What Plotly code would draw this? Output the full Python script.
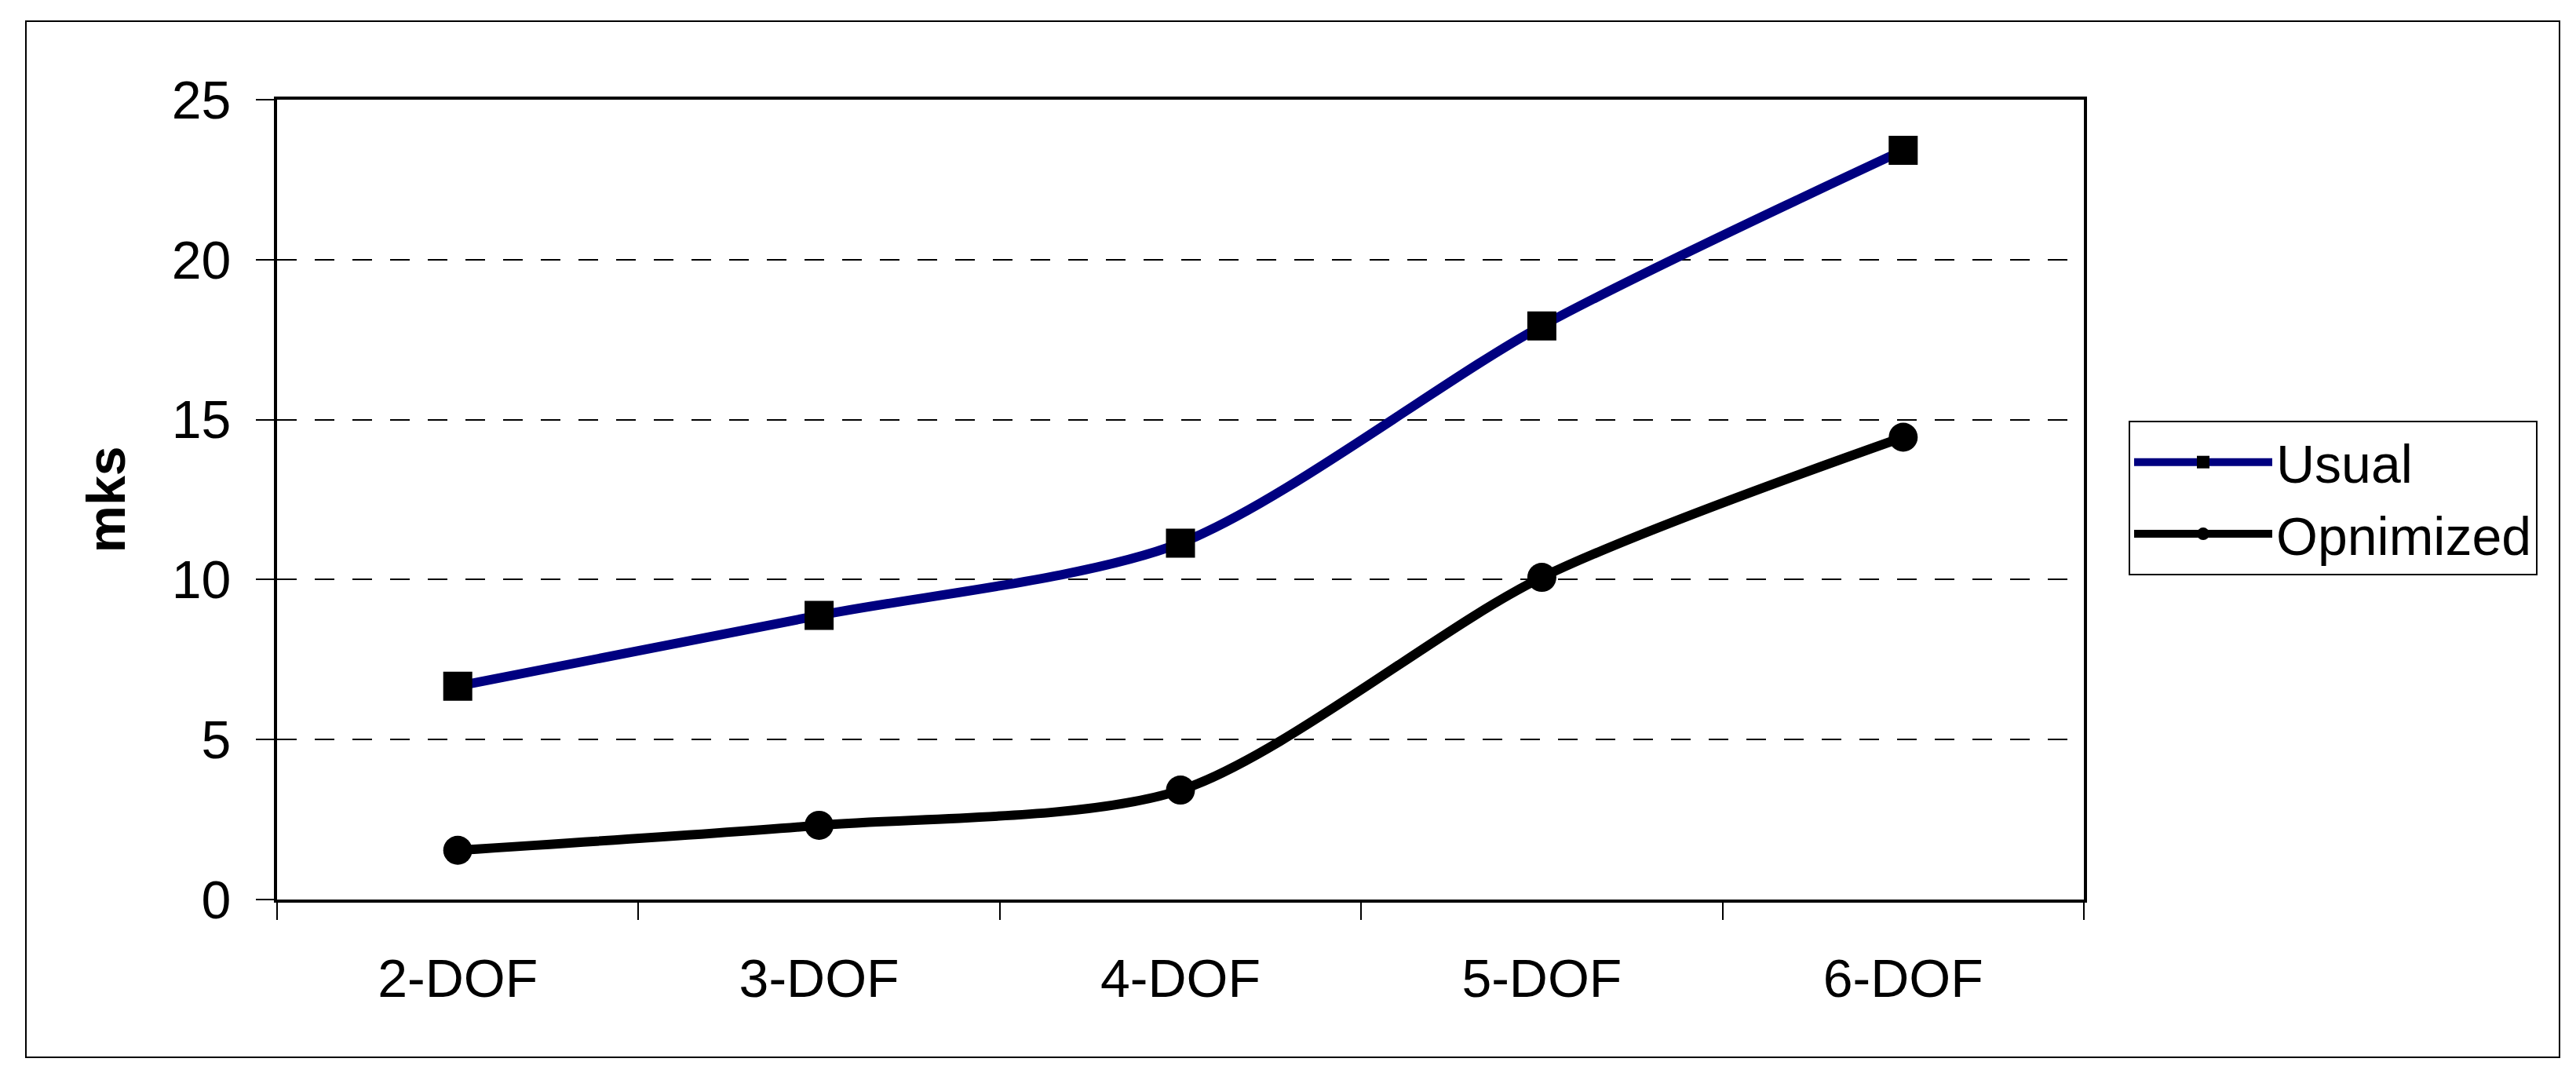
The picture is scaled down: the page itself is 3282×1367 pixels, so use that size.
import plotly.graph_objects as go

categories = ["2-DOF", "3-DOF", "4-DOF", "5-DOF", "6-DOF"]
usual = [6.67, 8.88, 11.14, 17.93, 23.42]
optimized = [1.54, 2.32, 3.42, 10.07, 14.45]
series_names = ["Usual", "Opnimized"]
y_ticks = [0, 5, 10, 15, 20, 25]

OFF = 8  # browser body margin
W, H = 3282 - OFF, 1367 - OFF
PL, PR, PT, PB = 353 - OFF, 2655 - OFF, 127 - OFF, 1146 - OFF  # plot area pixel box
FONT = "Arial, Liberation Sans, sans-serif"
FS = 68

def px_x(p):
    return (p - OFF - PL) / (PR - PL)

def px_y(p):
    return (PB - (p - OFF)) / (PB - PT)

fig = go.Figure()
fig.add_trace(go.Scatter(
    x=categories, y=usual, name=series_names[0], mode="lines+markers",
    line=dict(color="#000080", width=12, shape="spline", smoothing=0.8),
    marker=dict(symbol="square", size=37, color="black", line=dict(width=0)),
))
fig.add_trace(go.Scatter(
    x=categories, y=optimized, name=series_names[1], mode="lines+markers",
    line=dict(color="black", width=12, shape="spline", smoothing=0.8),
    marker=dict(symbol="circle", size=37, color="black", line=dict(width=0)),
))

fig.update_layout(
    width=W, height=H,
    margin=dict(l=PL, r=W - PR, t=PT, b=H - PB, pad=0),
    paper_bgcolor="white", plot_bgcolor="white",
    font=dict(family=FONT, size=FS, color="black"),
    showlegend=True,
    legend=dict(
        x=px_x(2712), y=px_y(536), xanchor="left", yanchor="top",
        bordercolor="black", borderwidth=2, bgcolor="white",
        font=dict(family=FONT, size=FS, color="black"),
        itemwidth=176, tracegroupgap=0,
    ),
    shapes=[dict(
        type="rect", xref="paper", yref="paper",
        x0=px_x(33), x1=px_x(3261), y0=px_y(1347), y1=px_y(27),
        line=dict(color="black", width=2), layer="below",
    )],
)

fig.update_xaxes(
    type="category", range=[-0.5, len(categories) - 0.5],
    tickson="boundaries", ticks="outside", ticklen=22, tickwidth=1.5, tickcolor="black",
    showline=True, linecolor="black", linewidth=4, mirror=True,
    showgrid=False, zeroline=False,
    tickfont=dict(family=FONT, size=FS, color="black"),
    ticklabelstandoff=38,
)
fig.update_yaxes(
    range=[0, 25], tickvals=y_ticks, ticks="outside", ticklen=23, tickwidth=1.5, tickcolor="black",
    showline=True, linecolor="black", linewidth=4, mirror=True,
    showgrid=True, gridcolor="black", gridwidth=1.5, griddash="25px,23px",
    zeroline=False,
    tickfont=dict(family=FONT, size=FS, color="black"),
    ticklabelstandoff=18,
    title=dict(text="<b>mks</b>", font=dict(family=FONT, size=FS, color="black"), standoff=38),
)

fig.write_html("out.html")
